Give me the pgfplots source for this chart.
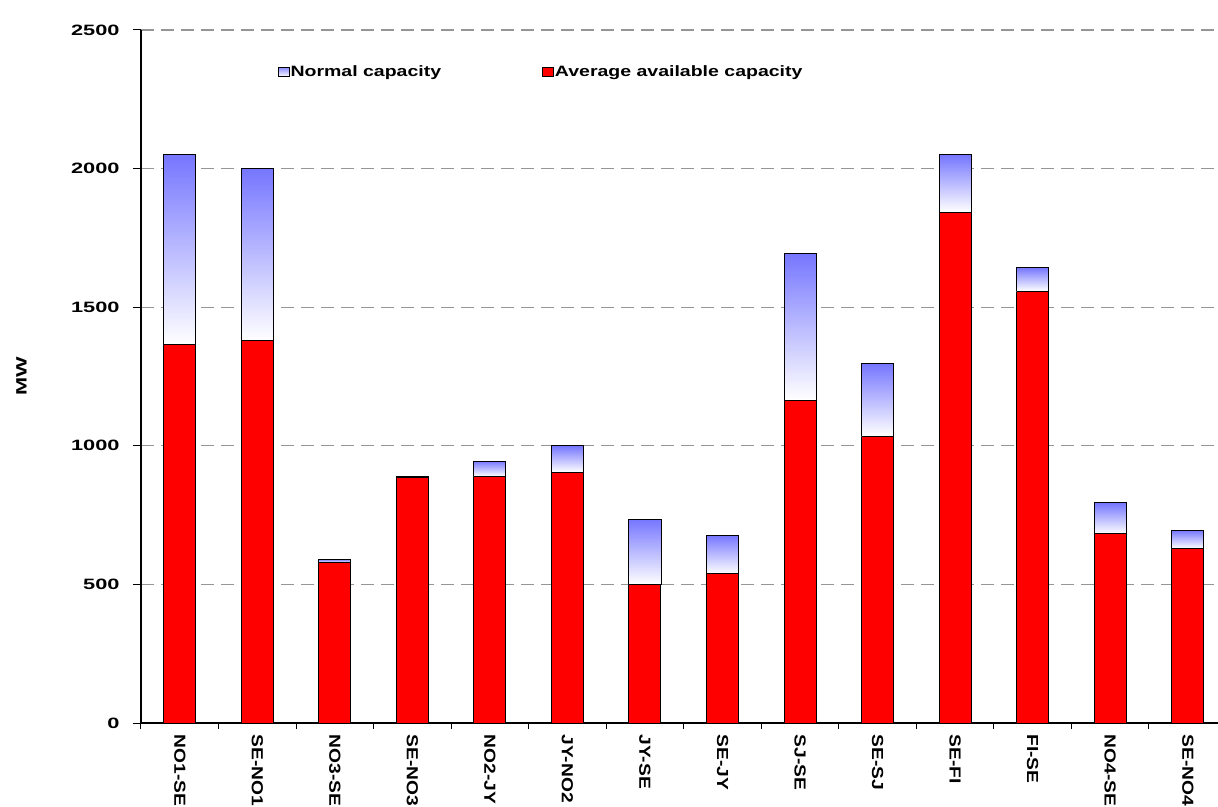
\documentclass[border=0pt]{standalone}
\usepackage{fontspec}
\usepackage{pgfplots}
\pgfplotsset{compat=1.18}
\usepackage{pgfplotstable}
\newfontfamily\yfont{Liberation Sans}[FakeStretch=1.45]
\newfontfamily\xfont{Liberation Sans}[FakeStretch=1.2]
\newfontfamily\lfont{Liberation Sans}[FakeStretch=1.3]
\definecolor{capblue}{RGB}{118,118,255}
\definecolor{capred}{RGB}{255,0,0}
\definecolor{gridgray}{RGB}{150,150,150}

% available capacity (red bars)
\pgfplotstableread{
x avail normal
0 1365 2050
1 1380 2000
2 578 591
3 885 890
4 890 945
5 905 1000
6 500 735
7 538 678
8 1165 1695
9 1035 1297
10 1843 2050
11 1558 1643
12 682 794
13 630 696
}\datatable

\begin{document}
\begin{tikzpicture}[x=1pt,y=1pt]
\path[use as bounding box] (-141,-83) rectangle (1077,723);
\clip (-141,-83) rectangle (1077,723);
\begin{axis}[
  at={(0,0)}, anchor=south west,
  scale only axis, width=1077pt, height=693pt,
  xmin=-0.5, xmax=13.39, ymin=0, ymax=2500,
  axis lines=left, axis line style={-, black, line width=1.2pt},
  ytick={0,500,...,2500},
  ymajorgrids=true,
  grid style={gridgray, line width=1.2pt, dash pattern=on 13pt off 7pt},
  tick align=outside,
  major tick length=8pt,
  minor tick length=6pt,
  xtick={0,...,13},
  xticklabels={NO1-SE,SE-NO1,NO3-SE,SE-NO3,NO2-JY,JY-NO2,JY-SE,SE-JY,SJ-SE,SE-SJ,SE-FI,FI-SE,NO4-SE,SE-NO4},
  minor xtick={-0.5,0.5,...,13.5},
  major x tick style={draw=none},
  minor x tick style={black, line width=1pt},
  ytick style={black, line width=1pt},
  /pgf/number format/assume math mode=true,
  /pgf/number format/1000 sep={},
  yticklabel style={font=\yfont\bfseries\fontsize{15}{18}\selectfont, xshift=-10pt},
  xticklabel style={rotate=-90, anchor=west, font=\xfont\bfseries\fontsize{16}{18}\selectfont},
  ylabel={MW},
  every axis y label/.style={at={(axis description cs:-0.111,0.5)}, rotate=90, anchor=center, font=\yfont\bfseries\fontsize{15}{18}\selectfont},
  legend style={draw=none, fill=none, at={(0.124,0.939)}, anchor=west,
     font=\lfont\bfseries\fontsize{15}{17}\selectfont,
     nodes={inner xsep=1pt},
     /tikz/every even column/.append style={column sep=100pt}},
  legend columns=2,
  legend image code/.code={\draw[#1, line width=0.8pt] (0pt,-4.5pt) rectangle (11pt,4.5pt);},
  topbar/.style={draw=black, line width=1pt, mark=none, bottom color=white, middle color=capblue!35, top color=capblue, forget plot},
]
\addlegendimage{draw=black, bottom color=white, top color=capblue!80}
\addlegendentry{Normal capacity}
\addlegendimage{draw=black, fill=capred}
\addlegendentry{Average available capacity}
% red bars: average available capacity
\addplot[ybar, bar width=32pt, bar shift=0pt, fill=capred, draw=black, line width=1pt, forget plot] table[x=x, y=avail]{\datatable};
% shaded segments: from available up to normal capacity, one per bar
\addplot[topbar] coordinates {(-0.2064,1365) (0.2064,1365) (0.2064,2050) (-0.2064,2050) (-0.2064,1365)};
\addplot[topbar] coordinates {(0.7936,1380) (1.2064,1380) (1.2064,2000) (0.7936,2000) (0.7936,1380)};
\addplot[topbar] coordinates {(1.7936,578) (2.2064,578) (2.2064,591) (1.7936,591) (1.7936,578)};
\addplot[topbar] coordinates {(2.7936,885) (3.2064,885) (3.2064,890) (2.7936,890) (2.7936,885)};
\addplot[topbar] coordinates {(3.7936,890) (4.2064,890) (4.2064,945) (3.7936,945) (3.7936,890)};
\addplot[topbar] coordinates {(4.7936,905) (5.2064,905) (5.2064,1000) (4.7936,1000) (4.7936,905)};
\addplot[topbar] coordinates {(5.7936,500) (6.2064,500) (6.2064,735) (5.7936,735) (5.7936,500)};
\addplot[topbar] coordinates {(6.7936,538) (7.2064,538) (7.2064,678) (6.7936,678) (6.7936,538)};
\addplot[topbar] coordinates {(7.7936,1165) (8.2064,1165) (8.2064,1695) (7.7936,1695) (7.7936,1165)};
\addplot[topbar] coordinates {(8.7936,1035) (9.2064,1035) (9.2064,1297) (8.7936,1297) (8.7936,1035)};
\addplot[topbar] coordinates {(9.7936,1843) (10.2064,1843) (10.2064,2050) (9.7936,2050) (9.7936,1843)};
\addplot[topbar] coordinates {(10.7936,1558) (11.2064,1558) (11.2064,1643) (10.7936,1643) (10.7936,1558)};
\addplot[topbar] coordinates {(11.7936,682) (12.2064,682) (12.2064,794) (11.7936,794) (11.7936,682)};
\addplot[topbar] coordinates {(12.7936,630) (13.2064,630) (13.2064,696) (12.7936,696) (12.7936,630)};
\end{axis}
\end{tikzpicture}
\end{document}
